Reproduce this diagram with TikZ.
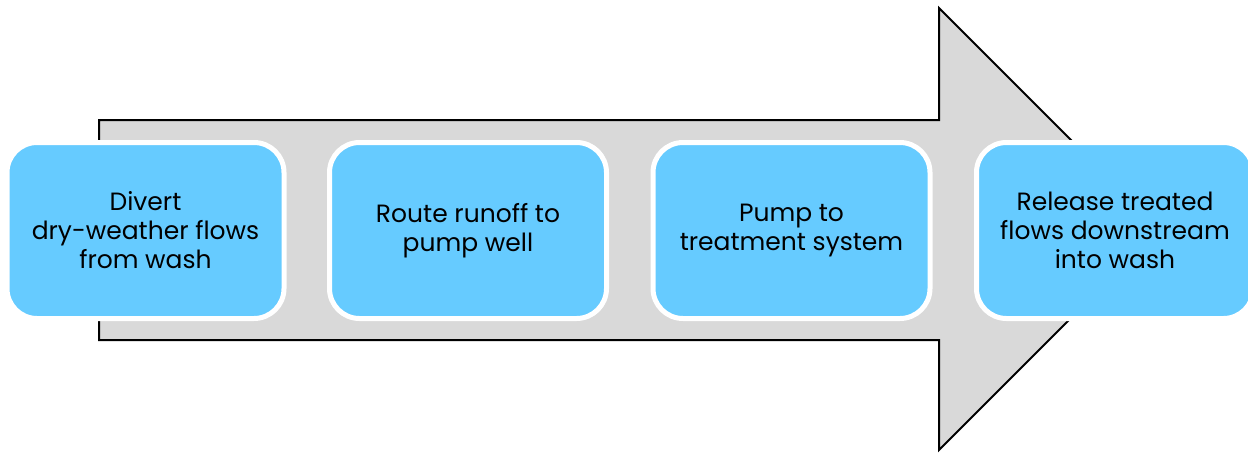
\documentclass[tikz,border=0pt]{standalone}
\usepackage{fontspec}
\setmainfont{Poppins}
\definecolor{boxblue}{HTML}{66CBFF}
\definecolor{arrowgray}{HTML}{D9D9D9}
\begin{document}
\begin{tikzpicture}[x=1pt,y=-1pt,
  stepbox/.style={draw=white, line width=5pt, fill=boxblue, rounded corners=30pt,
    minimum width=277pt, minimum height=176pt, inner sep=0pt, align=center,
    font=\fontsize{25}{29}\selectfont, text=black}]
\useasboundingbox (0,0) rectangle (1248,453);
\draw[fill=arrowgray, line width=2pt, line join=miter]
  (99,120) -- (939,120) -- (939,8) -- (1160,229) -- (939,450) -- (939,340) -- (99,340) -- cycle;
\node[stepbox] (s1) at (145.5,230.5) {Divert\\dry-weather flows\\from wash};
\node[stepbox] (s2) at (468,230.5) {Route runoff to\\pump well};
\node[stepbox] (s3) at (791.5,230.5) {Pump to\\treatment system};
\node[stepbox] (s4) at (1115,230.5) {Release treated\\flows downstream\\into wash};
\end{tikzpicture}
\end{document}
